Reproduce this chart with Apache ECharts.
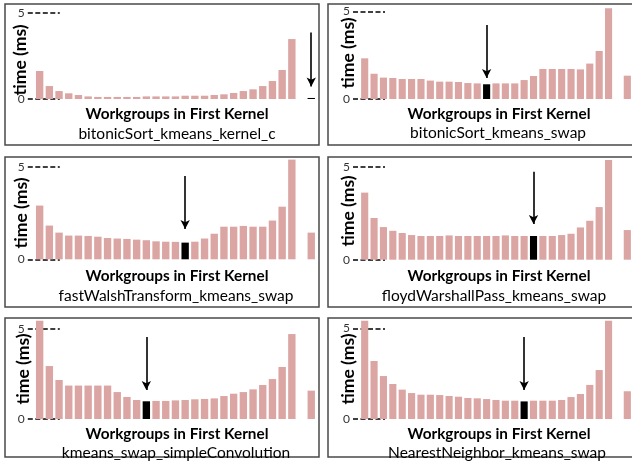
<!DOCTYPE html>
<html>
<head>
<meta charset="utf-8">
<script src="https://cdn.jsdelivr.net/npm/echarts@6/dist/echarts.min.js"></script>
<style>
  html, body { margin: 0; padding: 0; background: #ffffff; }
  #chart { width: 632px; height: 466px; }
</style>
</head>
<body>
<div id="chart"></div>
<script>
// Workgroup splits of the first kernel, a spacer slot, and the kernel pair run alone.
const categories = ['1', '2', '3', '4', '5', '6', '7', '8', '9', '10', '11', '12', '13', '14',
  '15', '16', '17', '18', '19', '20', '21', '22', '23', '24', '25', '26', '27', 'gap', 'solo'];

// Execution time (ms) for each split, per kernel pair.
const bitonicSortKmeansKernelC = [1.62, 0.75, 0.46, 0.33, 0.23, 0.15, 0.12, 0.12, 0.12, 0.12, 0.12,
  0.15, 0.15, 0.15, 0.15, 0.19, 0.19, 0.19, 0.23, 0.27, 0.35, 0.46, 0.56, 0.75, 1.04, 1.68, 3.47];
const bitonicSortKmeansSwap = [2.32, 1.44, 1.22, 1.20, 1.14, 1.14, 1.14, 1.05, 0.99, 0.99, 0.97,
  0.91, 0.89, 0.84, 0.89, 0.89, 0.89, 1.08, 1.31, 1.71, 1.71, 1.71, 1.71, 1.69, 2.02, 2.74, 5.17];
const fastWalshTransformKmeansSwap = [2.90, 1.82, 1.44, 1.28, 1.28, 1.26, 1.22, 1.15, 1.12, 1.10, 1.06,
  1.03, 0.97, 0.95, 0.94, 0.90, 0.95, 1.12, 1.38, 1.76, 1.76, 1.80, 1.76, 1.76, 2.09, 2.84, 5.38];
const floydWarshallPassKmeansSwap = [3.62, 2.25, 1.76, 1.56, 1.44, 1.33, 1.28, 1.28, 1.28, 1.31, 1.28,
  1.28, 1.28, 1.28, 1.28, 1.31, 1.28, 1.28, 1.28, 1.28, 1.28, 1.33, 1.40, 1.74, 2.10, 2.84, 5.38];
const kmeansSwapSimpleConvolution = [5.44, 2.93, 2.16, 1.85, 1.85, 1.85, 1.85, 1.85, 1.49, 1.22, 1.05,
  0.98, 1.00, 1.00, 1.03, 1.05, 1.09, 1.11, 1.14, 1.27, 1.40, 1.49, 1.64, 1.88, 2.21, 2.88, 4.70];
const nearestNeighborKmeansSwap = [5.42, 3.20, 2.37, 1.93, 1.62, 1.43, 1.34, 1.34, 1.32, 1.27, 1.23,
  1.16, 1.14, 1.10, 1.05, 1.01, 1.01, 0.97, 1.01, 1.01, 1.01, 1.05, 1.21, 1.38, 1.88, 2.70, 5.42];

// Time when each pair runs without splitting.
const soloTimes = [0.06, 1.33, 1.44, 1.60, 1.57, 1.53];

// Category index of the best configuration in each pair.
const bestIndex = [28, 13, 15, 18, 11, 17];

const pairNames = ['bitonicSort_kmeans_kernel_c', 'bitonicSort_kmeans_swap',
  'fastWalshTransform_kmeans_swap', 'floydWarshallPass_kmeans_swap',
  'kmeans_swap_simpleConvolution', 'NearestNeighbor_kmeans_swap'];
const pairTimes = [bitonicSortKmeansKernelC, bitonicSortKmeansSwap, fastWalshTransformKmeansSwap,
  floydWarshallPassKmeansSwap, kmeansSwapSimpleConvolution, nearestNeighborKmeansSwap];

const yTicks = [0, 5];
const xTitle = 'Workgroups in First Kernel';
const yTitle = 'time (ms)';

// ---- layout of the six panels ----
const Y_MAX = 5.6;
const layout = [
  { box: [5, 4, 314, 141],   left: 34.8, band: 9.7,  zero: 99,    ppu: 17.27, arrow: [3.85, 0.72],
    yTitle: [20, 60],  xTitleY: 114, subX: 177, subY: 134, titleX: 177 },
  { box: [328, 4, 320, 141], left: 360,  band: 9.45, zero: 99,    ppu: 17.53, arrow: [4.22, 1.20],
    yTitle: [348, 53], xTitleY: 114, subX: 498, subY: 133, titleX: 499 },
  { box: [5, 157, 314, 150], left: 34.8, band: 9.7,  zero: 259.3, ppu: 18.53, arrow: [4.50, 1.64],
    yTitle: [21, 213], xTitleY: 276, subX: 176, subY: 296, titleX: 177 },
  { box: [328, 157, 320, 150], left: 360, band: 9.45, zero: 259.7, ppu: 18.53, arrow: [4.75, 1.93],
    yTitle: [348, 211], xTitleY: 276, subX: 494, subY: 296, titleX: 499 },
  { box: [5, 318, 314, 139], left: 34.8, band: 9.7,  zero: 419,   ppu: 18.07, arrow: [4.54, 1.60],
    yTitle: [23, 369], xTitleY: 434, subX: 176, subY: 453, titleX: 177 },
  { box: [328, 318, 320, 139], left: 360, band: 9.45, zero: 419,  ppu: 18.13, arrow: [4.52, 1.60],
    yTitle: [348, 369], xTitleY: 434, subX: 497, subY: 453, titleX: 499 }
];

const BAR_COLOR = '#DAA5A2';
const BEST_COLOR = '#000000';
const FONT = 'Lato, "Open Sans", sans-serif';

const grids = [], xAxes = [], yAxes = [], series = [], graphics = [];

pairNames.forEach((name, i) => {
  const L = layout[i];
  grids.push({
    left: L.left, top: L.zero - Y_MAX * L.ppu,
    width: categories.length * L.band, height: Y_MAX * L.ppu,
    containLabel: false
  });
  xAxes.push({
    type: 'category', gridIndex: i, data: categories, show: false
  });
  yAxes.push({
    type: 'value', gridIndex: i, min: 0, max: Y_MAX, interval: 5,
    offset: 7,
    axisLine: { show: false },
    splitLine: { show: false },
    axisTick: {
      show: true, inside: true, length: 32, customValues: yTicks,
      lineStyle: { color: '#000', width: 1.5, type: [5, 2.5] }
    },
    axisLabel: {
      show: true, customValues: yTicks, margin: 3,
      fontFamily: FONT, fontSize: 12, color: '#333'
    }
  });

  const data = pairTimes[i].map(v => v);
  data.push('-');
  data.push(soloTimes[i]);
  const items = data.map((v, k) => k === bestIndex[i]
    ? { value: v, itemStyle: { color: BEST_COLOR } }
    : v);

  series.push({
    type: 'bar', xAxisIndex: i, yAxisIndex: i, data: items,
    barWidth: '76%',
    itemStyle: { color: BAR_COLOR },
    emphasis: { disabled: true },
    silent: true,
    markLine: {
      silent: true,
      symbol: ['none', 'arrow'],
      symbolSize: [7, 9],
      lineStyle: { color: '#000', width: 1.6, type: 'solid' },
      label: { show: false },
      emphasis: { disabled: true },
      data: [[
        { coord: [categories[bestIndex[i]], L.arrow[0]] },
        { coord: [categories[bestIndex[i]], L.arrow[1]] }
      ]]
    }
  });

  const [bx, by, bw, bh] = L.box;
  graphics.push({
    type: 'rect', silent: true,
    shape: { x: bx, y: by, width: bw, height: bh },
    style: { fill: null, stroke: '#4a4a4a', lineWidth: 1.5 }
  });
  graphics.push({
    type: 'text', silent: true, x: L.yTitle[0], y: L.yTitle[1], rotation: Math.PI / 2,
    style: { text: yTitle, font: 'bold 17.5px ' + FONT, fill: '#000',
      textAlign: 'center', textVerticalAlign: 'middle' }
  });
  graphics.push({
    type: 'text', silent: true, x: L.titleX, y: L.xTitleY,
    style: { text: xTitle, font: 'bold 15.3px ' + FONT, fill: '#000',
      textAlign: 'center', textVerticalAlign: 'middle' }
  });
  graphics.push({
    type: 'text', silent: true, x: L.subX, y: L.subY,
    style: { text: name, font: '15.5px ' + FONT, fill: '#000',
      textAlign: 'center', textVerticalAlign: 'middle' }
  });
});

const chart = echarts.init(document.getElementById('chart'), null, { renderer: 'canvas' });
chart.setOption({
  animation: false,
  backgroundColor: '#ffffff',
  grid: grids,
  xAxis: xAxes,
  yAxis: yAxes,
  series: series,
  graphic: graphics
});
</script>
</body>
</html>
